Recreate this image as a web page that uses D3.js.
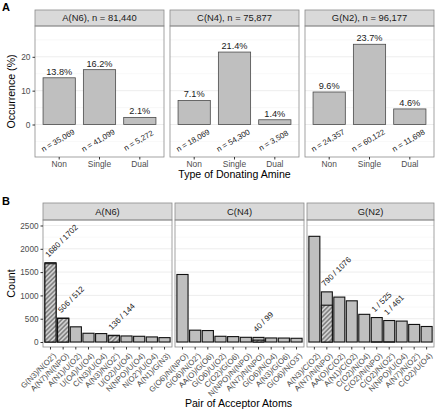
<!DOCTYPE html>
<html>
<head>
<meta charset="utf-8">
<script src="https://cdn.jsdelivr.net/npm/d3@7"></script>
<style>
  body { margin: 0; background: #fff; }
  text { font-family: "Liberation Sans", Arial, sans-serif; }
</style>
</head>
<body>
<div id="chart"></div>
<script>
// ---- data ----
var donorNames = ["A(N6)", "C(N4)", "G(N2)"];
var donorTotals = ["81,440", "75,877", "96,177"];
var amineTypes = ["Non", "Single", "Dual"];

var occurrenceA6 = [13.8, 16.2, 2.1];
var occurrenceC4 = [7.1, 21.4, 1.4];
var occurrenceG2 = [9.6, 23.7, 4.6];
var nA6 = ["35,069", "41,099", "5,272"];
var nC4 = ["18,069", "54,300", "3,508"];
var nG2 = ["24,357", "60,122", "11,698"];

var pairsA6 = ["G(N3)/N(O2')", "A(N7)/N(NPO)", "A(N1)/U(O2)", "U(O4)/U(O4)", "C(N3)/U(O4)",
  "A(N3)/N(O2')", "U(O2)/U(O4)", "N(NPO)/U(O4)", "N(O2')/U(O4)", "A(N1)/G(N3)"];
var countA6 = [1702, 512, 326, 188, 181, 144, 130, 123, 109, 94];
var hatchA6 = [1680, 506, 0, 0, 0, 136, 0, 0, 0, 0];

var pairsC4 = ["G(O6)/N(NPO)", "G(O6)/N(O2')", "AA(O)/G(O6)", "G(O6)/U(O2)", "C(O2)/G(O6)",
  "N(NPO)/N(NPO)", "A(N7)/N(NPO)", "G(O6)/N(O4)", "A(N3)/G(O6)", "G(O6)/N(O3')"];
var countC4 = [1449, 254, 246, 123, 116, 101, 99, 87, 85, 80];
var hatchC4 = [0, 0, 0, 0, 0, 0, 40, 0, 0, 0];

var pairsG2 = ["A(N3)/C(O2)", "A(N7)/N(NPO)", "AA(O)/C(O2)", "A(N1)/C(O2)", "C(O2)/N(O4)",
  "C(O2)/N(NPO)", "C(O2)/N(O2')", "N(NPO)/U(O4)", "A(N7)/N(O2')", "C(O2)/U(O4)"];
var countG2 = [2268, 1076, 964, 884, 594, 525, 461, 449, 377, 333];
var hatchG2 = [0, 790, 0, 0, 0, 1, 1, 0, 0, 0];

// ---- layout ----
var svgWidth = 440, svgHeight = 413;
var panelX = [[35, 164], [170, 299], [305, 434]];
var panelBX = [[43, 172], [175, 304], [307, 434]];

var svg = d3.select("#chart").append("svg")
  .attr("width", svgWidth)
  .attr("height", svgHeight);

var defs = svg.append("defs");
var pat = defs.append("pattern")
  .attr("id", "hatch")
  .attr("patternUnits", "userSpaceOnUse")
  .attr("width", 3.2).attr("height", 3.2)
  .attr("patternTransform", "rotate(45)");
pat.append("rect").attr("width", 3.2).attr("height", 3.2).attr("fill", "#cfcfcf");
pat.append("line").attr("x1", 0.8).attr("y1", 0).attr("x2", 0.8).attr("y2", 3.2)
  .attr("stroke", "#555").attr("stroke-width", 1);

var gridMajor = "#ebebeb", gridMinor = "#f4f4f4", borderCol = "#8c8c8c";
var fontFam = "Liberation Sans, Arial, sans-serif";

function drawStrip(x0, x1, y0, y1, label) {
  svg.append("rect")
    .attr("x", x0).attr("y", y0).attr("width", x1 - x0).attr("height", y1 - y0)
    .attr("fill", "#d9d9d9").attr("stroke", borderCol).attr("stroke-width", 0.8);
  svg.append("text")
    .attr("x", (x0 + x1) / 2).attr("y", (y0 + y1) / 2 + 3.4)
    .attr("text-anchor", "middle")
    .attr("font-size", 9.4).attr("fill", "#1a1a1a")
    .text(label);
}

function drawGrid(x0, x1, y, majors, minors) {
  minors.forEach(function(v) {
    svg.append("line").attr("x1", x0).attr("x2", x1).attr("y1", y(v)).attr("y2", y(v))
      .attr("stroke", gridMinor).attr("stroke-width", 0.6);
  });
  majors.forEach(function(v) {
    svg.append("line").attr("x1", x0).attr("x2", x1).attr("y1", y(v)).attr("y2", y(v))
      .attr("stroke", gridMajor).attr("stroke-width", 0.9);
  });
}

// ---- panel A ----
var aTop = 26, aBottom = 157;
var yA = d3.scaleLinear().domain([-9.6, 29.1]).range([aBottom, aTop]);
var occurrences = [occurrenceA6, occurrenceC4, occurrenceG2];
var nLabels = [nA6, nC4, nG2];

panelX.forEach(function(px, i) {
  var x = d3.scaleBand().domain(amineTypes).range(px).paddingInner(0.2).paddingOuter(0.2);
  drawStrip(px[0], px[1], 10, aTop, donorNames[i] + ", n = " + donorTotals[i]);
  drawGrid(px[0], px[1], yA, [0, 10, 20], [-5, 5, 15, 25]);

  var g = svg.append("g");
  g.selectAll("rect.bar")
    .data(occurrences[i])
    .enter().append("rect")
    .attr("x", (d, j) => x(amineTypes[j]))
    .attr("y", d => yA(d))
    .attr("width", x.bandwidth())
    .attr("height", d => yA(0) - yA(d))
    .attr("fill", "#bfbfbf")
    .attr("stroke", "#4a4a4a")
    .attr("stroke-width", 0.8);

  g.selectAll("text.pct")
    .data(occurrences[i])
    .enter().append("text")
    .attr("x", (d, j) => x(amineTypes[j]) + x.bandwidth() / 2)
    .attr("y", d => yA(d) - 3)
    .attr("text-anchor", "middle")
    .attr("font-size", 9.2).attr("fill", "#1a1a1a")
    .text(d => d.toFixed(1) + "%");

  g.selectAll("text.n")
    .data(nLabels[i])
    .enter().append("text")
    .attr("transform", (d, j) => "translate(" + (x(amineTypes[j]) + x.bandwidth() / 2) + "," + (yA(-5.4)) + ") rotate(-30)")
    .attr("text-anchor", "middle")
    .attr("font-size", 7.8).attr("fill", "#1a1a1a")
    .text(d => "n = " + d);

  svg.append("rect")
    .attr("x", px[0]).attr("y", aTop).attr("width", px[1] - px[0]).attr("height", aBottom - aTop)
    .attr("fill", "none").attr("stroke", borderCol).attr("stroke-width", 0.8);

  var xAxis = svg.append("g")
    .attr("transform", "translate(0," + aBottom + ")")
    .call(d3.axisBottom(x).tickSize(2.5).tickPadding(2));
  xAxis.select(".domain").remove();
  xAxis.selectAll("line").attr("stroke", "#333");
  xAxis.selectAll("text").attr("font-size", 8.4).attr("fill", "#4d4d4d")
    .attr("font-family", fontFam);

  if (i === 0) {
    var yAxis = svg.append("g")
      .attr("transform", "translate(" + px[0] + ",0)")
      .call(d3.axisLeft(yA).tickValues([0, 10, 20]).tickSize(2.5).tickPadding(2));
    yAxis.select(".domain").remove();
    yAxis.selectAll("line").attr("stroke", "#333");
    yAxis.selectAll("text").attr("font-size", 8.4).attr("fill", "#4d4d4d")
      .attr("font-family", fontFam);
  }
});

svg.append("text").attr("x", 234.5).attr("y", 178)
  .attr("text-anchor", "middle").attr("font-size", 10.6).attr("fill", "#000")
  .text("Type of Donating Amine");
svg.append("text").attr("transform", "translate(15," + ((aTop + aBottom) / 2) + ") rotate(-90)")
  .attr("text-anchor", "middle").attr("font-size", 10.6).attr("fill", "#000")
  .text("Occurrence (%)");
svg.append("text").attr("x", 2).attr("y", 11)
  .attr("font-size", 11).attr("font-weight", "bold").text("A");

// ---- panel B ----
var bTop = 220, bBottom = 347;
var yB = d3.scaleLinear().domain([-107, 2618]).range([bBottom, bTop]);
var pairSets = [pairsA6, pairsC4, pairsG2];
var countSets = [countA6, countC4, countG2];
var hatchSets = [hatchA6, hatchC4, hatchG2];

panelBX.forEach(function(px, i) {
  var pairs = pairSets[i];
  var x = d3.scaleBand().domain(pairs).range(px).paddingInner(0.12).paddingOuter(0.15);
  drawStrip(px[0], px[1], 203, bTop, donorNames[i]);
  drawGrid(px[0], px[1], yB, [0, 500, 1000, 1500, 2000, 2500], [250, 750, 1250, 1750, 2250]);

  var rows = pairs.map(function(p, j) {
    return { pair: p, count: countSets[i][j], hatch: hatchSets[i][j] };
  });
  var g = svg.append("g");

  g.selectAll("rect.bar")
    .data(rows)
    .enter().append("rect")
    .attr("x", d => x(d.pair))
    .attr("y", d => yB(d.count))
    .attr("width", x.bandwidth())
    .attr("height", d => yB(0) - yB(d.count))
    .attr("fill", "#bfbfbf")
    .attr("stroke", "#111")
    .attr("stroke-width", 1.1);

  g.selectAll("rect.hatch")
    .data(rows.filter(d => d.hatch > 0))
    .enter().append("rect")
    .attr("x", d => x(d.pair))
    .attr("y", d => yB(d.hatch))
    .attr("width", x.bandwidth())
    .attr("height", d => yB(0) - yB(d.hatch))
    .attr("fill", "url(#hatch)")
    .attr("stroke", "#111")
    .attr("stroke-width", 1.1);

  g.selectAll("text.ratio")
    .data(rows.filter(d => d.hatch > 0))
    .enter().append("text")
    .attr("transform", d => "translate(" + (x(d.pair) + x.bandwidth() / 2 - 2) + "," + (yB(d.count) - 5) + ") rotate(-45)")
    .attr("font-size", 8).attr("fill", "#1a1a1a")
    .text(d => d.hatch + " / " + d.count);

  svg.append("rect")
    .attr("x", px[0]).attr("y", bTop).attr("width", px[1] - px[0]).attr("height", bBottom - bTop)
    .attr("fill", "none").attr("stroke", borderCol).attr("stroke-width", 0.8);

  var xAxis = svg.append("g")
    .attr("transform", "translate(0," + bBottom + ")")
    .call(d3.axisBottom(x).tickSize(2.5).tickPadding(2));
  xAxis.select(".domain").remove();
  xAxis.selectAll("line").attr("stroke", "#333");
  xAxis.selectAll("text")
    .attr("font-size", 7.8).attr("fill", "#4d4d4d")
    .attr("font-family", fontFam)
    .attr("text-anchor", "end")
    .attr("dy", null)
    .attr("transform", "translate(3,6) rotate(-45)");

  if (i === 0) {
    var yAxis = svg.append("g")
      .attr("transform", "translate(" + px[0] + ",0)")
      .call(d3.axisLeft(yB).tickValues([0, 500, 1000, 1500, 2000, 2500])
        .tickFormat(d3.format("d")).tickSize(2.5).tickPadding(2));
    yAxis.select(".domain").remove();
    yAxis.selectAll("line").attr("stroke", "#333");
    yAxis.selectAll("text").attr("font-size", 8.2).attr("fill", "#4d4d4d")
      .attr("font-family", fontFam);
  }
});

svg.append("text").attr("x", 238.5).attr("y", 407)
  .attr("text-anchor", "middle").attr("font-size", 10.6).attr("fill", "#000")
  .text("Pair of Acceptor Atoms");
svg.append("text").attr("transform", "translate(15," + ((bTop + bBottom) / 2) + ") rotate(-90)")
  .attr("text-anchor", "middle").attr("font-size", 10.6).attr("fill", "#000")
  .text("Count");
svg.append("text").attr("x", 2).attr("y", 205)
  .attr("font-size", 11).attr("font-weight", "bold").text("B");
</script>
</body>
</html>
